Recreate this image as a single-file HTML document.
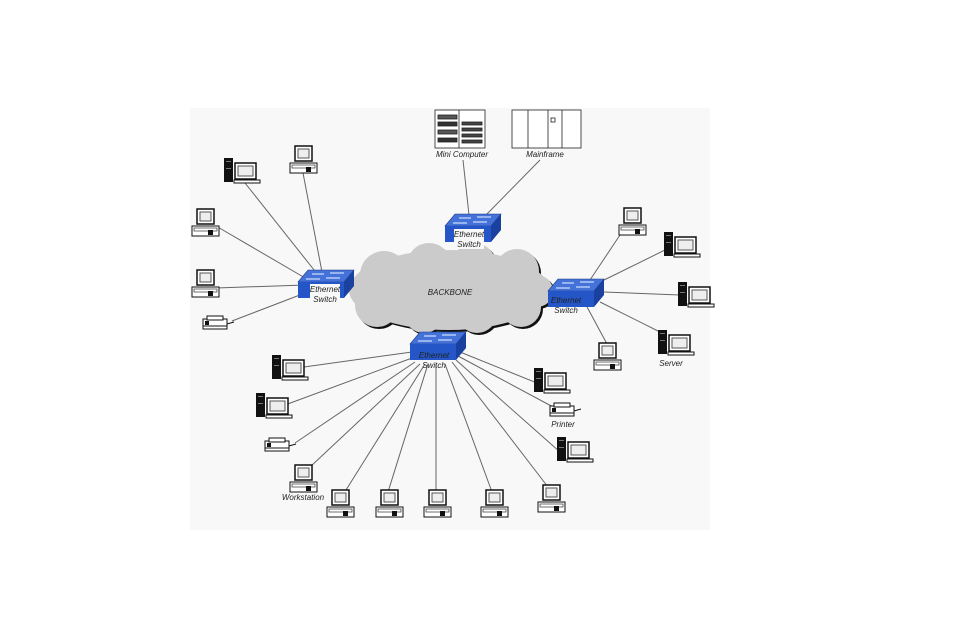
<!DOCTYPE html>
<html><head><meta charset="utf-8"><style>
html,body{margin:0;padding:0;background:#fff;width:974px;height:642px;overflow:hidden}
svg{display:block}
text{font-family:"Liberation Sans",sans-serif;font-style:italic;font-size:8px;fill:#222}
</style></head><body>
<svg width="974" height="642" viewBox="0 0 974 642" xmlns="http://www.w3.org/2000/svg">
<defs>
<g id="desk">
 <rect x="0" y="0" width="9" height="24" fill="#111"/>
 <rect x="2" y="3" width="5" height="1" fill="#777"/><rect x="2" y="10" width="5" height="1" fill="#777"/>
 <rect x="11" y="5" width="21" height="16" fill="#fff" stroke="#111" stroke-width="1.5"/>
 <rect x="14" y="8" width="15" height="10" fill="#eee" stroke="#555"/>
 <rect x="10" y="22" width="26" height="3" fill="#fff" stroke="#111"/>
</g>
<g id="ws">
 <rect x="5" y="0" width="17" height="15" fill="#fff" stroke="#111" stroke-width="1.5"/>
 <rect x="8" y="3" width="11" height="9" fill="#eee" stroke="#555"/>
 <rect x="0" y="17" width="27" height="10" fill="#fff" stroke="#111"/>
 <rect x="2" y="19" width="23" height="3" fill="#fff" stroke="#333" stroke-width=".7"/>
 <rect x="16" y="21" width="5" height="5" fill="#111"/>
</g>
<g id="prn">
 <rect x="0" y="3" width="24" height="10" fill="#fff" stroke="#111"/>
 <rect x="4" y="0" width="16" height="4" fill="#fff" stroke="#111"/>
 <rect x="2" y="5" width="4" height="4" fill="#111"/>
 <line x1="0" y1="10" x2="24" y2="10" stroke="#111"/>
 <line x1="24" y1="8" x2="31" y2="6" stroke="#111"/>
</g>
<g id="sw">
 <polygon points="10,0 56,0 46,12 0,12" fill="#4472d8" stroke="#1a3a8a" stroke-width=".6"/>
 <rect x="0" y="12" width="46" height="16" fill="#2456c8"/>
 <polygon points="46,12 56,0 56,16 46,28" fill="#1a40a0"/>
 <line x1="14" y1="4" x2="26" y2="4" stroke="#cfe0ff" stroke-width="1.2"/>
 <line x1="32" y1="3" x2="46" y2="3" stroke="#cfe0ff" stroke-width="1.2"/>
 <line x1="8" y1="9" x2="22" y2="9" stroke="#cfe0ff" stroke-width="1.2"/>
 <line x1="28" y1="8" x2="42" y2="8" stroke="#cfe0ff" stroke-width="1.2"/>
</g>
<g id="cloud">
 <ellipse cx="450" cy="291" rx="100" ry="40"/>
 <circle cx="385" cy="276" r="24"/><circle cx="430" cy="266" r="22"/><circle cx="475" cy="266" r="22"/>
 <circle cx="518" cy="272" r="22"/><circle cx="538" cy="292" r="16"/><circle cx="378" cy="306" r="22"/>
 <circle cx="425" cy="314" r="20"/><circle cx="478" cy="314" r="20"/><circle cx="522" cy="308" r="20"/>
</g>
</defs>
<rect x="190" y="108" width="520" height="422" fill="#f8f8f8"/>

<use href="#cloud" fill="#111" transform="translate(1,1)"/>
<use href="#cloud" fill="#cbcbcb" transform="translate(-1,-1)"/>
<text x="450" y="295" text-anchor="middle">BACKBONE</text>

<g stroke="#666" stroke-width="1" fill="none">
 <line x1="245" y1="183" x2="322" y2="280"/>
 <line x1="303" y1="173" x2="322" y2="272"/>
 <line x1="216" y1="226" x2="312" y2="282"/>
 <line x1="216" y1="288" x2="305" y2="285"/>
 <line x1="232" y1="321" x2="305" y2="293"/>
 <line x1="463" y1="160" x2="469" y2="215"/>
 <line x1="540" y1="160" x2="486" y2="215"/>
 <line x1="622" y1="232" x2="590" y2="280"/>
 <line x1="665" y1="250" x2="600" y2="282"/>
 <line x1="680" y1="295" x2="604" y2="292"/>
 <line x1="660" y1="332" x2="600" y2="302"/>
 <line x1="607" y1="344" x2="586" y2="305"/>
 <line x1="304" y1="367" x2="412" y2="352"/>
 <line x1="285" y1="405" x2="412" y2="358"/>
 <line x1="295" y1="443" x2="415" y2="362"/>
 <line x1="310" y1="467" x2="420" y2="364"/>
 <line x1="346" y1="490" x2="425" y2="364"/>
 <line x1="388" y1="492" x2="428" y2="364"/>
 <line x1="436" y1="492" x2="436" y2="364"/>
 <line x1="492" y1="492" x2="445" y2="364"/>
 <line x1="548" y1="487" x2="452" y2="362"/>
 <line x1="560" y1="452" x2="456" y2="360"/>
 <line x1="555" y1="408" x2="458" y2="356"/>
 <line x1="537" y1="383" x2="460" y2="352"/>
</g>

<use href="#sw" x="298" y="270"/>
<rect x="310" y="284" width="30" height="20" fill="#f8f8f8"/>
<text x="325" y="292" text-anchor="middle">Ethernet</text><text x="325" y="302" text-anchor="middle">Switch</text>
<use href="#sw" x="445" y="214"/>
<rect x="454" y="229" width="30" height="20" fill="#f8f8f8"/>
<text x="469" y="237" text-anchor="middle">Ethernet</text><text x="469" y="247" text-anchor="middle">Switch</text>
<use href="#sw" x="548" y="279"/>
<text x="566" y="303" text-anchor="middle">Ethernet</text><text x="566" y="313" text-anchor="middle">Switch</text>
<use href="#sw" x="410" y="332"/>
<text x="434" y="358" text-anchor="middle">Ethernet</text><text x="434" y="368" text-anchor="middle">Switch</text>

<g stroke="#222" fill="#fff" stroke-width=".8">
 <rect x="435" y="110" width="50" height="38"/>
 <line x1="459" y1="110" x2="459" y2="148"/>
 <rect x="438" y="115" width="19" height="4" fill="#555"/><rect x="438" y="122" width="19" height="4" fill="#333"/>
 <rect x="438" y="130" width="19" height="4" fill="#555"/><rect x="438" y="138" width="19" height="4" fill="#333"/>
 <rect x="462" y="122" width="20" height="3" fill="#444"/><rect x="462" y="128" width="20" height="3" fill="#444"/>
 <rect x="462" y="134" width="20" height="3" fill="#444"/><rect x="462" y="140" width="20" height="3" fill="#444"/>
 <rect x="512" y="110" width="69" height="38"/>
 <line x1="528" y1="110" x2="528" y2="148"/><line x1="548" y1="110" x2="548" y2="148"/><line x1="562" y1="110" x2="562" y2="148"/>
 <rect x="551" y="118" width="4" height="4"/>
</g>
<text x="462" y="157" text-anchor="middle">Mini Computer</text>
<text x="545" y="157" text-anchor="middle">Mainframe</text>

<use href="#desk" x="224" y="158"/>
<use href="#ws" x="290" y="146"/>
<use href="#ws" x="192" y="209"/>
<use href="#ws" x="192" y="270"/>
<use href="#prn" x="203" y="316"/>

<use href="#ws" x="619" y="208"/>
<use href="#desk" x="664" y="232"/>
<use href="#desk" x="678" y="282"/>
<use href="#desk" x="658" y="330"/>
<text x="671" y="366" text-anchor="middle">Server</text>
<use href="#ws" x="594" y="343"/>

<use href="#desk" x="272" y="355"/>
<use href="#desk" x="256" y="393"/>
<use href="#prn" x="265" y="438"/>
<use href="#ws" x="290" y="465"/>
<text x="303" y="500" text-anchor="middle">Workstation</text>
<use href="#ws" x="327" y="490"/>
<use href="#ws" x="376" y="490"/>
<use href="#ws" x="424" y="490"/>
<use href="#ws" x="481" y="490"/>
<use href="#ws" x="538" y="485"/>
<use href="#desk" x="534" y="368"/>
<use href="#prn" x="550" y="403"/>
<text x="563" y="427" text-anchor="middle">Printer</text>
<use href="#desk" x="557" y="437"/>
</svg>
</body></html>
